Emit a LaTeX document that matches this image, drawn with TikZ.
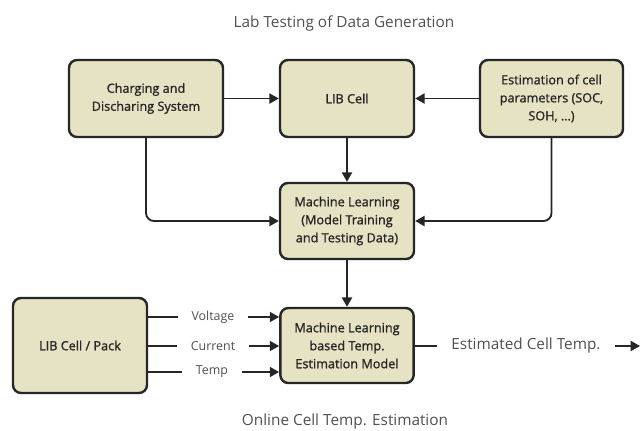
\documentclass[tikz,border=0pt]{standalone}
\usepackage{fontspec}
\setmainfont{Open Sans}
\newfontfamily\boxfont[FakeBold=1.2]{Open Sans}
\usetikzlibrary{arrows.meta}
\definecolor{boxfill}{HTML}{E6E2C4}
\definecolor{txtgray}{HTML}{505050}
\tikzset{
  blk/.style={draw=black!85, line width=1.8pt, rounded corners=6pt, fill=boxfill,
    align=center, text=black!85, inner sep=0pt,
    font=\boxfont\fontsize{9.5}{13.5}\selectfont},
  wire/.style={line width=1.4pt, draw=black!85},
  arr/.style={wire, -{Triangle[length=7pt,width=7.5pt]}},
  lbl/.style={text=txtgray, inner xsep=10pt, inner ysep=0pt,
    font=\fontsize{9.3}{11}\selectfont},
  ttl/.style={text=txtgray, font=\fontsize{11.5}{13}\selectfont},
}
\begin{document}
\begin{tikzpicture}[x=0.75pt,y=-0.75pt]
\useasboundingbox (0,0) rectangle (641,430);
\node[ttl] (top) at (344,23) {Lab Testing of Data Generation};
\node[ttl] (bot) at (345,422) {Online Cell Temp. Estimation};
\node[blk, minimum width=115.5pt, minimum height=57.75pt] (chg) at (146,98.5) {Charging and\\Discharing System};
\node[blk, minimum width=100.5pt, minimum height=57.75pt] (lib) at (347,98.5) {LIB Cell};
\node[blk, minimum width=107.25pt, minimum height=57.75pt] (est) at (551.5,98.5) {Estimation of cell\\parameters (SOC,\\SOH, \dots)};
\node[blk, minimum width=100.5pt, minimum height=57pt] (mlt) at (347,221) {Machine Learning\\(Model Training\\and Testing Data)};
\node[blk, minimum width=100.5pt, minimum height=71.25pt] (pack) at (80,345.5) {LIB Cell / Pack};
\node[blk, minimum width=100pt, minimum height=56.25pt] (mle) at (347,345.5) {Machine Learning\\based Temp.\\Estimation Model};
\draw[arr] (chg) -- (lib);
\draw[arr] (est) -- (lib);
\draw[arr] (lib) -- (mlt);
\draw[arr, rounded corners=6pt] (chg.south) |- (mlt);
\draw[arr, rounded corners=6pt] (est.south) |- (mlt);
\draw[arr] (mlt) -- (mle);
\node[lbl] (vol) at (213,317) {Voltage};
\node[lbl] (cur) at (213,346) {Current};
\node[lbl] (tmp) at (212,372) {Temp};
\draw[wire] (pack.east |- vol) -- (vol.west);
\draw[wire] (pack.east |- cur) -- (cur.west);
\draw[wire] (pack.east |- tmp) -- (tmp.west);
\draw[arr] (vol) -- (mle.west |- vol);
\draw[arr] (cur) -- (mle.west |- cur);
\draw[arr] (tmp) -- (mle.west |- tmp);
\node[lbl, inner xsep=10.5pt, font=\fontsize{11.5}{13}\selectfont] (out) at (526,346) {Estimated Cell Temp.};
\coordinate (end) at (640,346);
\draw[wire] (mle.east |- out) -- (out.west);
\draw[arr] (out) -- (end);
\end{tikzpicture}
\end{document}
